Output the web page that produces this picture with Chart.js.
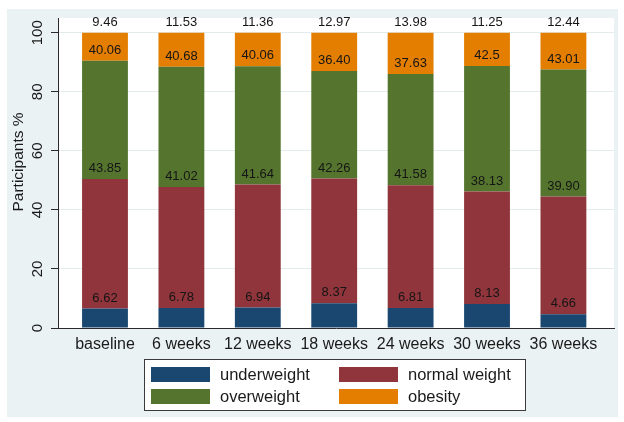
<!DOCTYPE html>
<html><head><meta charset="utf-8">
<script src="https://cdn.jsdelivr.net/npm/chart.js@4.4.1/dist/chart.umd.min.js"></script>
<style>html,body{margin:0;padding:0;background:#fff;} canvas{display:block;}</style>
</head><body>
<canvas id="c" width="624" height="422"></canvas>
<script>
const categories = ['baseline','6 weeks','12 weeks','18 weeks','24 weeks','30 weeks','36 weeks'];
const underweight = ['6.62','6.78','6.94','8.37','6.81','8.13','4.66'];
const normalWeight = ['43.85','41.02','41.64','42.26','41.58','38.13','39.90'];
const overweight = ['40.06','40.68','40.06','36.40','37.63','42.5','43.01'];
const obesity = ['9.46','11.53','11.36','12.97','13.98','11.25','12.44'];
const yTicks = [0,20,40,60,80,100];
const seriesNames = ['underweight','normal weight','overweight','obesity'];
const seriesColors = ['#1a476f','#90353b','#55752f','#e37e00'];
const yTitle = 'Participants %';

const FONT = '"Liberation Sans", Arial, Helvetica, sans-serif';
const seriesValues = [underweight, normalWeight, overweight, obesity];

const datasets = seriesNames.map((name, k) => ({
  label: name,
  data: seriesValues[k].map((s, i) => ({x: i, y: parseFloat(s), txt: s})),
  backgroundColor: seriesColors[k],
  borderWidth: 0,
  barPercentage: 0.6,
  categoryPercentage: 1
}));

const bgPlugin = {
  id: 'bg',
  beforeDraw(chart) {
    const ctx = chart.ctx, a = chart.chartArea;
    ctx.save();
    ctx.fillStyle = '#ffffff';
    ctx.fillRect(0, 0, chart.width, chart.height);
    ctx.fillStyle = '#eaf2f3';
    ctx.fillRect(7, 9, 611, 408);
    ctx.fillStyle = '#ffffff';
    ctx.fillRect(a.left, a.top, a.right - a.left, a.bottom - a.top);
    ctx.restore();
  }
};

const labelPlugin = {
  id: 'barLabels',
  afterDatasetsDraw(chart) {
    const ctx = chart.ctx;
    ctx.save();
    ctx.font = '13px ' + FONT;
    ctx.fillStyle = '#151515';
    ctx.textAlign = 'center';
    ctx.textBaseline = 'middle';
    chart.data.datasets.forEach((ds, k) => {
      const meta = chart.getDatasetMeta(k);
      meta.data.forEach((el, i) => {
        ctx.fillText(ds.data[i].txt, el.x, el.y - 10.5);
      });
    });
    ctx.restore();
  }
};

const extrasPlugin = {
  id: 'extras',
  afterDraw(chart) {
    const ctx = chart.ctx;
    ctx.save();
    ctx.translate(19, 162);
    ctx.rotate(-Math.PI / 2);
    ctx.font = '15.5px ' + FONT;
    ctx.fillStyle = '#1a1a1a';
    ctx.textAlign = 'center';
    ctx.textBaseline = 'middle';
    ctx.fillText(yTitle, 0, 0);
    ctx.restore();

    ctx.save();
    ctx.fillStyle = '#ffffff';
    ctx.fillRect(144, 359, 382, 52);
    ctx.strokeStyle = '#3a3a3a';
    ctx.lineWidth = 1;
    ctx.strokeRect(144.5, 359.5, 381, 51);
    const colX = [151, 339];
    const rowY = [367, 389];
    ctx.font = '16.5px ' + FONT;
    ctx.textAlign = 'left';
    ctx.textBaseline = 'middle';
    chart.data.datasets.forEach((ds, k) => {
      const c = k % 2, r = Math.floor(k / 2);
      ctx.fillStyle = ds.backgroundColor;
      ctx.fillRect(colX[c], rowY[r], 59, 15);
      ctx.fillStyle = '#1a1a1a';
      ctx.fillText(ds.label, colX[c] + 69, rowY[r] + 8);
    });
    ctx.restore();
  }
};

new Chart(document.getElementById('c'), {
  type: 'bar',
  data: { datasets },
  options: {
    responsive: false,
    animation: false,
    devicePixelRatio: 1,
    layout: { padding: { top: 18, right: 10, left: 0, bottom: 0 } },
    plugins: { legend: { display: false }, tooltip: { enabled: false } },
    scales: {
      x: {
        type: 'linear',
        stacked: true,
        offset: false,
        min: -0.615,
        max: 6.662,
        afterBuildTicks: s => { s.ticks = categories.map((c, i) => ({ value: i })); },
        afterFit: s => { s.height = 94; },
        grid: { display: false, drawTicks: false, offset: false },
        border: { display: true, color: '#2a2a2a', width: 1, z: 1 },
        ticks: {
          autoSkip: false, maxRotation: 0, minRotation: 0, padding: 7,
          color: '#1a1a1a', font: { family: FONT, size: 16 },
          callback: v => categories[Math.round(v)]
        }
      },
      y: {
        stacked: true,
        min: 0,
        max: 105,
        afterBuildTicks: s => { s.ticks = yTicks.map(v => ({ value: v })); },
        afterFit: s => { s.width = 58; },
        grid: { color: '#e3ebed', lineWidth: 1, drawTicks: true, tickLength: 7, tickColor: '#2a2a2a' },
        border: { display: true, color: '#2a2a2a', width: 1 },
        ticks: {
          minRotation: 90, maxRotation: 90, crossAlign: 'center', padding: 1,
          color: '#1a1a1a', font: { family: FONT, size: 15 }
        }
      }
    }
  },
  plugins: [bgPlugin, labelPlugin, extrasPlugin]
});
</script>
</body></html>
